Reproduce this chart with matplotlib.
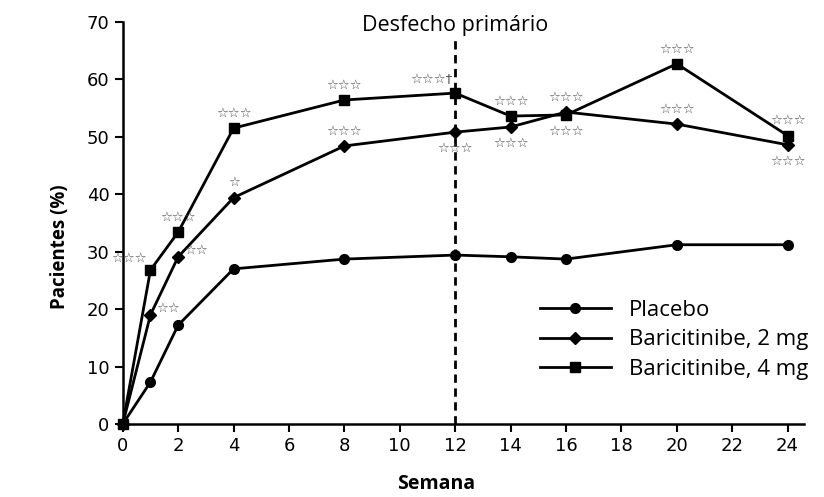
import matplotlib.pyplot as plt

weeks = [0, 1, 2, 4, 8, 12, 14, 16, 20, 24]
placebo = [0, 7.3, 17.2, 27.0, 28.7, 29.4, 29.1, 28.7, 31.2, 31.2]
bari_2mg = [0, 19.0, 29.1, 39.4, 48.4, 50.8, 51.7, 54.3, 52.2, 48.6]
bari_4mg = [0, 26.8, 33.4, 51.5, 56.4, 57.6, 53.6, 53.8, 62.7, 50.2]

labels = ['Placebo', 'Baricitinibe, 2 mg', 'Baricitinibe, 4 mg']
primary_week = 12

# significance marks: (series, week index, text, where)
marks = [
    ('4mg', 1, '☆☆☆', 'left'), ('4mg', 2, '☆☆☆', 'above'),
    ('2mg', 1, '☆☆', 'right'), ('2mg', 2, '☆☆', 'right'),
    ('4mg', 3, '☆☆☆', 'above'), ('2mg', 3, '☆', 'above'),
    ('4mg', 4, '☆☆☆', 'above'), ('2mg', 4, '☆☆☆', 'above'),
    ('4mg', 5, '☆☆☆†', 'aboveleft'), ('2mg', 5, '☆☆☆', 'below'),
    ('4mg', 6, '☆☆☆', 'above'), ('2mg', 6, '☆☆☆', 'below'),
    ('2mg', 7, '☆☆☆', 'above'), ('4mg', 7, '☆☆☆', 'below'),
    ('4mg', 8, '☆☆☆', 'above'), ('2mg', 8, '☆☆☆', 'above'),
    ('4mg', 9, '☆☆☆', 'above'), ('2mg', 9, '☆☆☆', 'below'),
]

fig = plt.figure(figsize=(8.24, 4.97), dpi=100)
ax = fig.add_axes([0.149, 0.147, 0.827, 0.809])

ax.plot(weeks, placebo, 'k-', marker='o', ms=7, lw=2, label=labels[0], clip_on=False)
ax.plot(weeks, bari_2mg, 'k-', marker='D', ms=6, lw=2, label=labels[1], clip_on=False)
ax.plot(weeks, bari_4mg, 'k-', marker='s', ms=7, lw=2, label=labels[2], clip_on=False)

ax.axvline(primary_week, ymin=0, ymax=0.955, color='k', ls=(0, (3, 2)), lw=2)
ax.text(primary_week, 69.3, 'Desfecho primário', ha='center', va='center',
        fontsize=15.5, family='Open Sans')

series = {'2mg': bari_2mg, '4mg': bari_4mg}
offsets = {'above': (0, 6, 'center', 'bottom'), 'below': (0, -7, 'center', 'top'),
           'left': (-3, 4, 'right', 'bottom'), 'right': (4, 0, 'left', 'bottom'),
           'aboveleft': (-2, 5, 'right', 'bottom')}
for s, i, txt, where in marks:
    dx, dy, ha, va = offsets[where]
    ax.annotate(txt, (weeks[i], series[s][i]), xytext=(dx, dy), textcoords='offset points',
                ha=ha, va=va, fontsize=9.5, color='0.3')

ax.set_xlim(0, 24.6)
ax.set_ylim(0, 70)
ax.set_xticks(range(0, 25, 2))
ax.set_yticks(range(0, 71, 10))
ax.spines['top'].set_visible(False)
ax.spines['right'].set_visible(False)
ax.spines['left'].set_linewidth(1.8)
ax.spines['bottom'].set_linewidth(1.8)
ax.tick_params(direction='out', length=6, width=1.5, labelsize=13)

ax.set_xlabel('Semana', fontsize=14, fontweight='bold', family='Open Sans')
ax.set_ylabel('Pacientes (%)', fontsize=13.5, fontweight='bold', family='Open Sans')
ax.xaxis.set_label_coords(0.46, -0.125)
ax.yaxis.set_label_coords(-0.078, 0.44)

leg = ax.legend(loc='lower right', bbox_to_anchor=(1.035, 0.06), frameon=False,
                handlelength=3.2, handletextpad=0.8, labelspacing=0.38,
                prop={'family': 'Open Sans', 'size': 16})

plt.savefig('out.png', dpi=100)
